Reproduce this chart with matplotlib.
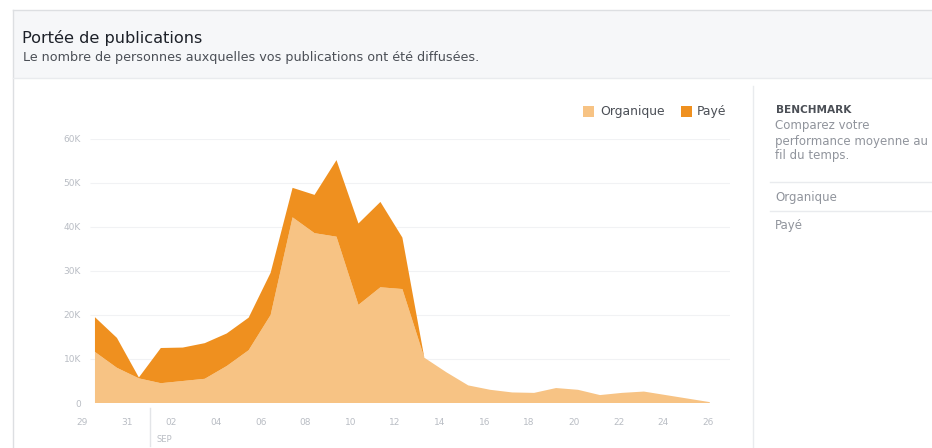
import numpy as np
import matplotlib.pyplot as plt
from matplotlib.patches import Rectangle

# daily reach, 29 Aug -> 26 Sep
days = ["29", "30", "31", "01", "02", "03", "04", "05", "06", "07", "08", "09", "10", "11", "12",
        "13", "14", "15", "16", "17", "18", "19", "20", "21", "22", "23", "24", "25", "26"]
organique = [11600, 8000, 5600, 4500, 5000, 5500, 8400, 12000, 20000, 42200, 38600, 37800, 22300, 26300, 25900,
             10300, 7000, 4000, 3000, 2400, 2300, 3400, 3000, 1800, 2300, 2600, 1800, 1000, 200]
total = [19500, 14800, 5800, 12500, 12600, 13600, 15800, 19400, 29600, 48900, 47300, 55200, 40800, 45700, 37600,
         10300, 7000, 4000, 3000, 2400, 2300, 3400, 3000, 1800, 2300, 2600, 1800, 1000, 200]
paye = [t - o for t, o in zip(total, organique)]

tick_days = ["29", "31", "02", "04", "06", "08", "10", "12", "14", "16", "18", "20", "22", "24", "26"]
y_ticks = [0, 10000, 20000, 30000, 40000, 50000, 60000]
y_labels = ["0", "10K", "20K", "30K", "40K", "50K", "60K"]

C_ORG = "#f7c384"
C_PAY = "#ef901f"
GREY = "#b9bdc4"

W, H = 932, 448
fig = plt.figure(figsize=(W / 100, H / 100), dpi=100)
fig.patch.set_facecolor("white")

# decoration layer in pixel coords
bg = fig.add_axes([0, 0, 1, 1])
bg.set_xlim(0, W)
bg.set_ylim(H, 0)
bg.axis("off")
bg.add_patch(Rectangle((13, 10), W, 68, facecolor="#f6f7f9", edgecolor="none"))
bg.plot([13, W], [10, 10], color="#dddfe2", lw=1)
bg.plot([13, 13], [10, H], color="#dddfe2", lw=1)
bg.plot([13, W], [78, 78], color="#e9ebee", lw=1)
bg.plot([753, 753], [86, H], color="#e9ebee", lw=1)
bg.text(22, 38, "Portée de publications", fontsize=11.6, color="#1d2129", va="center")
bg.text(23, 57, "Le nombre de personnes auxquelles vos publications ont été diffusées.",
        fontsize=9.2, color="#4b4f56", va="center")

bg.text(776, 110, "BENCHMARK", fontsize=7.6, fontweight="bold", color="#4b4f56", va="center")
for k, line in enumerate(["Comparez votre", "performance moyenne au", "fil du temps."]):
    bg.text(775, 126 + k * 15, line, fontsize=8.5, color="#90949c", va="center")
bg.plot([770, W], [182, 182], color="#e9ebee", lw=1)
bg.text(775, 197, "Organique", fontsize=8.5, color="#90949c", va="center")
bg.plot([770, W], [211, 211], color="#e9ebee", lw=1)
bg.text(775, 226, "Payé", fontsize=8.5, color="#90949c", va="center")

# legend
bg.add_patch(Rectangle((583, 106), 11, 11, facecolor=C_ORG, edgecolor="none"))
bg.text(600, 112, "Organique", fontsize=8.9, color="#4b4f56", va="center")
bg.add_patch(Rectangle((681, 106), 11, 11, facecolor=C_PAY, edgecolor="none"))
bg.text(697, 112, "Payé", fontsize=8.9, color="#4b4f56", va="center")

# month separator + label
bg.plot([150, 150], [408, 446], color="#e3e5e8", lw=1)
bg.text(164, 440, "SEP", fontsize=6, color=GREY, ha="center", va="center")

# chart axes: day 0 at x=82px, 22.36 px/day; y 0 at 403px, 60K at 139px
px_day = 22.36
x_left, x_right = 74, 730
ax = fig.add_axes([x_left / W, (H - 403) / H, (x_right - x_left) / W, (403 - 139) / H])
ax.set_xlim((x_left - 82) / px_day, (x_right - 82) / px_day)
ax.set_ylim(0, 60000)
ax.patch.set_alpha(0)
for s in ax.spines.values():
    s.set_visible(False)

x = 0.58 + 0.982 * np.arange(len(days))
ax.stackplot(x, organique, paye, colors=[C_ORG, C_PAY], linewidth=0)

grid_start = (90 - 82) / px_day
ax.hlines(y_ticks[1:], grid_start, (x_right - 82) / px_day, color="#f1f2f4", lw=0.8, zorder=0)

ax.set_yticks(y_ticks)
ax.set_yticklabels(y_labels)
ax.set_xticks(np.arange(0, 29, 2))
ax.set_xticklabels(tick_days)
ax.tick_params(axis="both", length=0, labelsize=6.5, labelcolor=GREY)
ax.tick_params(axis="y", pad=-5)
ax.tick_params(axis="x", pad=11)

fig.savefig("out.png", dpi=100)
